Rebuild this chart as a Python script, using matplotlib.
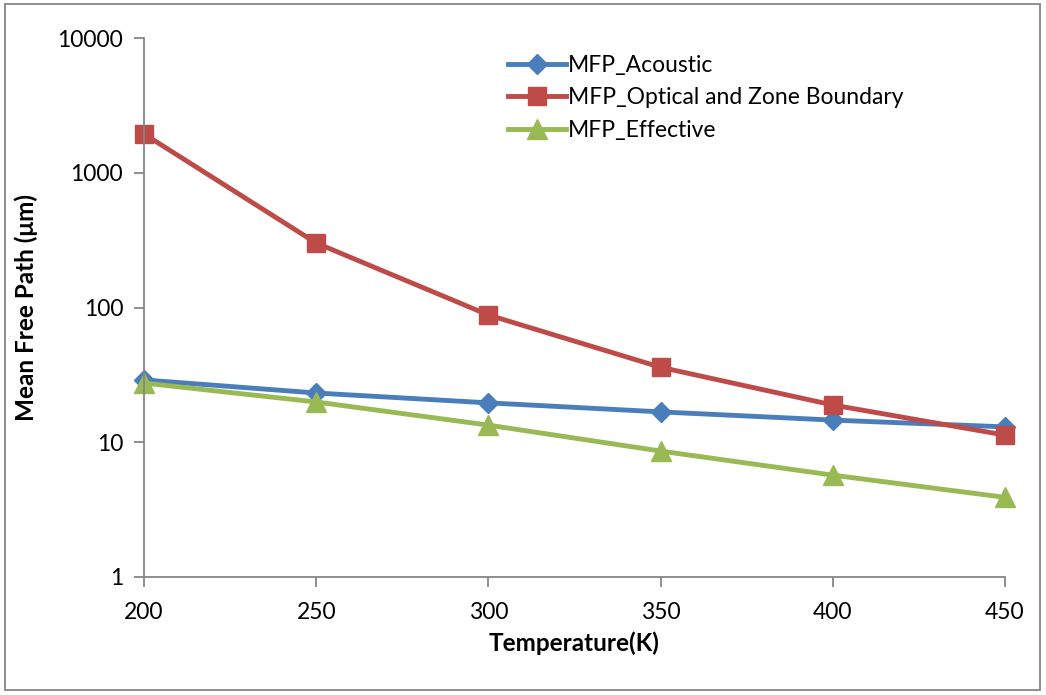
import matplotlib
matplotlib.use("Agg")
import matplotlib.pyplot as plt
from matplotlib.patches import Rectangle

# data
temperature = [200, 250, 300, 350, 400, 450]
mfp_acoustic = [29, 23.2, 19.6, 16.8, 14.6, 13.0]
mfp_optical = [1940, 301, 88, 36, 18.9, 11.3]
mfp_effective = [27.5, 19.9, 13.4, 8.6, 5.7, 3.9]

plt.rcParams['font.family'] = ['Lato', 'DejaVu Sans']

fig = plt.figure(figsize=(10.46, 6.95), dpi=100)
ax = fig.add_axes([0.1377, 0.1698, 0.8231, 0.7755])

ax.plot(temperature, mfp_acoustic, color='#4A7EBB', lw=3.5, marker='D',
        ms=10, label='MFP_Acoustic')
ax.plot(temperature, mfp_optical, color='#BE4B48', lw=3.5, marker='s',
        ms=13, label='MFP_Optical and Zone Boundary')
ax.plot(temperature, mfp_effective, color='#98B954', lw=3.5, marker='^',
        ms=14, label='MFP_Effective')

ax.set_yscale('log')
ax.set_ylim(1, 10000)
ax.set_xlim(200, 450)
ax.set_yticks([1, 10, 100, 1000, 10000])
ax.set_yticklabels(['1', '10', '100', '1000', '10000'])
ax.minorticks_off()
ax.set_xticks(temperature)

for s in ['top', 'right']:
    ax.spines[s].set_visible(False)
for s in ['left', 'bottom']:
    ax.spines[s].set_color('#868686')
    ax.spines[s].set_linewidth(1.3)
ax.tick_params(axis='both', direction='out', length=7, width=1.3,
               color='#868686', labelsize=16.5)
ax.tick_params(axis='x', pad=11)
ax.tick_params(axis='y', pad=8)

ax.set_xlabel('Temperature(K)', fontsize=17.5, fontweight='bold', labelpad=6)
ax.set_ylabel('Mean Free Path (μm)', fontsize=17.5, fontweight='bold', labelpad=14)

leg = ax.legend(loc='upper left', bbox_to_anchor=(0.423, 0.969), frameon=False,
                fontsize=16.5, handlelength=2.5, handletextpad=0.1,
                labelspacing=0.5, borderpad=0, borderaxespad=0)

for line in ax.get_lines():
    line.set_clip_on(False)

fig.patches.append(Rectangle((0.005, 0.007), 0.989, 0.987, transform=fig.transFigure,
                             fill=False, edgecolor='#868686', lw=1.3))

fig.savefig('out.png', dpi=100)
